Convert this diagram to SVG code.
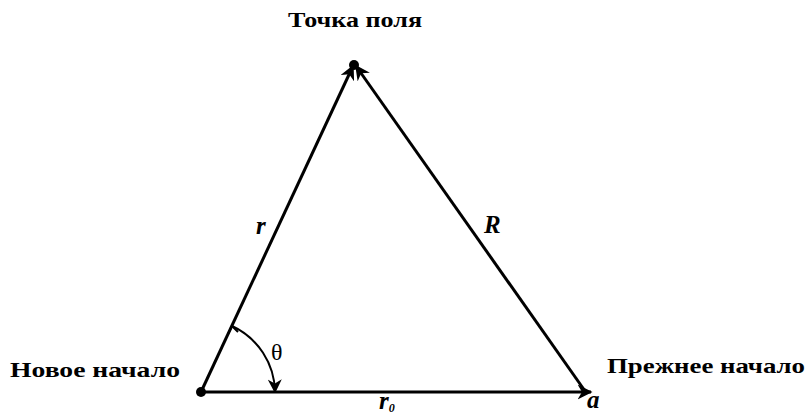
<svg xmlns="http://www.w3.org/2000/svg" width="809" height="414" viewBox="0 0 809 414">
<style>
.lbl{font-family:"Liberation Serif","Times New Roman",serif;font-size:22px;font-weight:bold;fill:#000}
.sym{font-family:"Liberation Serif","Times New Roman",serif;font-size:25px;font-style:italic;font-weight:bold;fill:#000}
.ln{stroke:#000;stroke-width:3;fill:none}
</style>
<defs>
<marker id="ah" viewBox="0 0 10 10" refX="9" refY="5" markerWidth="5" markerHeight="5" orient="auto" markerUnits="strokeWidth">
<path d="M0,0 L10,5 L0,10 L3,5 Z" fill="#000"/>
</marker>
<marker id="ahs" viewBox="0 0 10 10" refX="9" refY="5" markerWidth="7" markerHeight="7" orient="auto" markerUnits="strokeWidth">
<path d="M0,0 L10,5 L0,10 L3,5 Z" fill="#000"/>
</marker>
</defs>
<g id="connectors">
<line class="ln" x1="201" y1="392" x2="353" y2="66" marker-end="url(#ah)"/>
<line class="ln" x1="585" y1="391" x2="356" y2="66" marker-end="url(#ah)"/>
<line class="ln" x1="201" y1="392" x2="591" y2="392" marker-end="url(#ah)"/>
<path d="M232,326 A74,74 0 0 1 275,392" stroke="#000" stroke-width="2" fill="none" marker-end="url(#ahs)"/>
<path d="M228,334 L232,326 L238,332" stroke="#000" stroke-width="2" fill="none"/>
</g>
<g id="field-point">
<circle cx="354" cy="65" r="5" fill="#000"/>
<text class="lbl" x="288" y="27" textLength="134" lengthAdjust="spacingAndGlyphs">Точка поля</text>
</g>
<g id="new-origin">
<circle cx="201" cy="392" r="5" fill="#000"/>
<text class="lbl" x="10" y="377" textLength="170" lengthAdjust="spacingAndGlyphs">Новое начало</text>
</g>
<g id="old-origin">
<text class="lbl" x="607" y="373" textLength="198" lengthAdjust="spacingAndGlyphs">Прежнее начало</text>
<text class="sym" x="587" y="408">a</text>
</g>
<g id="labels">
<text class="sym" x="256" y="234">r</text>
<text class="sym" x="484" y="233" font-weight="normal">R</text>
<text x="271" y="360" font-family="Liberation Serif, serif" font-size="24" fill="#000">θ</text>
<text class="sym" x="379" y="409">r<tspan font-size="12" dy="3">0</tspan></text>
</g>
</svg>
